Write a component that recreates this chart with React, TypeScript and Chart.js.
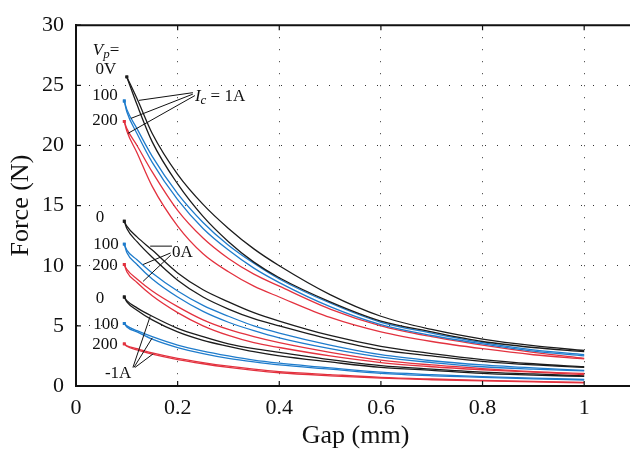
import React, { useEffect, useRef } from "react";
import { Chart, registerables } from "chart.js";

Chart.register(...registerables);

// Gap (mm) sample positions shared by all curves
const gapMm = [0.095, 0.1, 0.12, 0.15, 0.2, 0.25, 0.3, 0.35, 0.4, 0.5, 0.6, 0.7, 0.8, 0.9, 1.0];

// Ic = 1A
const ic1_vp0_a = [null, 25.7, 23.9, 21.0, 17.6, 15.1, 13.1, 11.4, 10.0, 7.6, 5.8, 4.7, 3.9, 3.35, 2.95];
const ic1_vp0_b = [null, 25.7, 23.4, 20.3, 16.8, 14.1, 12.0, 10.3, 9.0, 7.0, 5.4, 4.5, 3.7, 3.2, 2.85];
const ic1_vp100_a = [23.7, 23.0, 21.4, 19.1, 16.0, 13.6, 11.7, 10.2, 8.9, 6.9, 5.3, 4.4, 3.6, 3.0, 2.6];
const ic1_vp100_b = [23.7, 22.8, 21.0, 18.6, 15.5, 13.1, 11.3, 9.8, 8.6, 6.6, 5.1, 4.2, 3.5, 2.9, 2.5];
const ic1_vp200_a = [22.0, 21.4, 20.0, 17.8, 14.6, 12.3, 10.6, 9.3, 8.3, 6.4, 5.0, 4.1, 3.4, 2.8, 2.3];
const ic1_vp200_b = [22.0, 21.2, 19.4, 16.6, 13.3, 11.0, 9.5, 8.3, 7.4, 5.7, 4.5, 3.7, 3.1, 2.6, 2.25];

// Ic = 0A
const ic0_vp0_a = [13.7, 13.3, 12.4, 11.3, 9.4, 8.0, 7.0, 6.1, 5.4, 4.2, 3.3, 2.7, 2.2, 1.85, 1.6];
const ic0_vp0_b = [13.7, 13.1, 12.0, 10.7, 8.8, 7.4, 6.4, 5.6, 5.0, 3.9, 3.0, 2.5, 2.05, 1.75, 1.55];
const ic0_vp100_a = [11.8, 11.3, 10.5, 9.4, 7.9, 6.7, 5.8, 5.0, 4.4, 3.4, 2.6, 2.1, 1.75, 1.5, 1.3];
const ic0_vp100_b = [11.8, 11.1, 10.1, 8.9, 7.4, 6.2, 5.3, 4.6, 4.0, 3.1, 2.4, 1.95, 1.6, 1.4, 1.25];
const ic0_vp200_a = [10.1, 9.7, 8.9, 7.9, 6.6, 5.5, 4.7, 4.1, 3.6, 2.8, 2.15, 1.75, 1.45, 1.2, 1.05];
const ic0_vp200_b = [10.1, 9.5, 8.6, 7.5, 6.1, 5.0, 4.2, 3.6, 3.2, 2.5, 1.95, 1.6, 1.35, 1.15, 0.95];

// Ic = -1A
const icm1_vp0_a = [7.4, 7.1, 6.5, 5.8, 4.8, 4.1, 3.5, 3.1, 2.8, 2.2, 1.7, 1.4, 1.15, 1.0, 0.85];
const icm1_vp0_b = [7.4, 7.0, 6.3, 5.5, 4.5, 3.8, 3.3, 2.85, 2.5, 2.0, 1.55, 1.3, 1.05, 0.9, 0.8];
const icm1_vp100_a = [5.2, 5.0, 4.6, 4.1, 3.4, 2.9, 2.5, 2.15, 1.9, 1.5, 1.15, 0.95, 0.78, 0.65, 0.55];
const icm1_vp100_b = [5.2, 4.9, 4.5, 3.9, 3.2, 2.7, 2.3, 2.0, 1.75, 1.4, 1.05, 0.85, 0.72, 0.6, 0.5];
const icm1_vp200_a = [3.5, 3.35, 3.1, 2.75, 2.3, 1.95, 1.65, 1.4, 1.2, 0.95, 0.72, 0.58, 0.47, 0.38, 0.3];
const icm1_vp200_b = [3.5, 3.3, 3.0, 2.65, 2.2, 1.85, 1.55, 1.3, 1.1, 0.85, 0.65, 0.52, 0.42, 0.34, 0.27];

const xTickStep = 0.2;
const yTickStep = 5;

const COLOR_0V = "#1c1c1c";
const COLOR_100V = "#1f7ccc";
const COLOR_200V = "#e3323f";

const SERIF = '"Liberation Serif", "Times New Roman", Times, serif';

type Part = [string, string];

function drawRich(ctx: CanvasRenderingContext2D, parts: Part[], x: number, y: number, align: string) {
  const size = 17;
  const subSize = 13;
  const fontFor = (s: string) =>
    s === "i" ? `italic ${size}px ${SERIF}` : s === "si" ? `italic ${subSize}px ${SERIF}` : `${size}px ${SERIF}`;
  let total = 0;
  const widths = parts.map(([t, s]) => {
    ctx.font = fontFor(s);
    const w = ctx.measureText(t).width;
    total += w;
    return w;
  });
  let cx = align === "center" ? x - total / 2 : align === "right" ? x - total : x;
  ctx.textBaseline = "middle";
  ctx.textAlign = "left";
  parts.forEach(([t, s], i) => {
    ctx.font = fontFor(s);
    ctx.fillText(t, cx, s === "si" ? y + 4 : y);
    cx += widths[i];
  });
}

const framePlugin = {
  id: "frameAndNotes",
  afterDraw(chart: any) {
    const { ctx, chartArea: a, scales } = chart;
    const xs = scales.x;
    const ys = scales.y;
    const X = (v: number) => xs.getPixelForValue(v);
    const Y = (v: number) => ys.getPixelForValue(v);
    ctx.save();
    ctx.setLineDash([]);
    ctx.strokeStyle = "#111";
    ctx.lineWidth = 2;
    ctx.beginPath();
    ctx.moveTo(a.left - 1, a.top);
    ctx.lineTo(a.right, a.top);
    ctx.moveTo(a.right, a.top);
    ctx.lineTo(a.right, a.bottom);
    ctx.stroke();
    ctx.lineWidth = 1.2;
    ctx.beginPath();
    xs.ticks.forEach((t: any) => {
      const px = X(t.value);
      ctx.moveTo(px, a.bottom);
      ctx.lineTo(px, a.bottom - 5);
      ctx.moveTo(px, a.top);
      ctx.lineTo(px, a.top + 5);
    });
    ys.ticks.forEach((t: any) => {
      const py = Y(t.value);
      ctx.moveTo(a.left, py);
      ctx.lineTo(a.left + 5, py);
      ctx.moveTo(a.right, py);
      ctx.lineTo(a.right - 5, py);
    });
    ctx.stroke();

    // leader lines
    ctx.strokeStyle = "#111";
    ctx.lineWidth = 1;
    const seg = (x1: number, y1: number, x2: number, y2: number) => {
      ctx.beginPath();
      ctx.moveTo(X(x1), Y(y1));
      ctx.lineTo(X(x2), Y(y2));
      ctx.stroke();
    };
    seg(0.23, 24.39, 0.124, 23.75);
    seg(0.23, 24.27, 0.108, 22.25);
    seg(0.234, 24.15, 0.102, 21.0);
    seg(0.189, 11.63, 0.146, 11.63);
    seg(0.186, 11.06, 0.132, 10.1);
    seg(0.187, 10.9, 0.132, 8.7);
    seg(0.112, 1.54, 0.146, 5.8);
    seg(0.114, 1.54, 0.15, 4.0);
    seg(0.116, 1.54, 0.152, 2.68);

    ctx.fillStyle = "#111";
    drawRich(ctx, [["V", "i"], ["p", "si"], ["=", "n"]], X(0.033), Y(27.9), "left");
    drawRich(ctx, [["0V", "n"]], X(0.059), Y(26.3), "center");
    drawRich(ctx, [["100", "n"]], X(0.057), Y(24.15), "center");
    drawRich(ctx, [["200", "n"]], X(0.057), Y(22.11), "center");
    drawRich(ctx, [["I", "i"], ["c", "si"], [" = 1A", "n"]], X(0.234), Y(24.07), "left");

    drawRich(ctx, [["0", "n"]], X(0.047), Y(13.98), "center");
    drawRich(ctx, [["100", "n"]], X(0.059), Y(11.79), "center");
    drawRich(ctx, [["200", "n"]], X(0.057), Y(10.0), "center");
    drawRich(ctx, [["0A", "n"]], X(0.189), Y(11.06), "left");

    drawRich(ctx, [["0", "n"]], X(0.047), Y(7.24), "center");
    drawRich(ctx, [["100", "n"]], X(0.059), Y(5.12), "center");
    drawRich(ctx, [["200", "n"]], X(0.057), Y(3.41), "center");
    drawRich(ctx, [["-1A", "n"]], X(0.083), Y(1.06), "center");
    ctx.restore();
  },
};

function series(values: (number | null)[], color: string) {
  const first = values.findIndex((v) => v !== null);
  return {
    data: gapMm.map((g, i) => ({ x: g, y: values[i] })),
    borderColor: color,
    backgroundColor: color,
    borderWidth: 1.3,
    pointRadius: (c: any) => (c.dataIndex === first ? 2 : 0),
    pointStyle: "rect",
    pointBorderWidth: 0,
    fill: false,
    cubicInterpolationMode: "monotone" as const,
  };
}

export default function App() {
  const ref = useRef<HTMLCanvasElement | null>(null);
  useEffect(() => {
    document.body.style.margin = "0";
    document.body.style.overflow = "hidden";
    const canvas = ref.current!;
    const chart = new Chart(canvas, {
      type: "line",
      data: {
        datasets: [
          series(ic1_vp0_a, COLOR_0V),
          series(ic1_vp0_b, COLOR_0V),
          series(ic1_vp100_a, COLOR_100V),
          series(ic1_vp100_b, COLOR_100V),
          series(ic1_vp200_a, COLOR_200V),
          series(ic1_vp200_b, COLOR_200V),
          series(ic0_vp0_a, COLOR_0V),
          series(ic0_vp0_b, COLOR_0V),
          series(ic0_vp100_a, COLOR_100V),
          series(ic0_vp100_b, COLOR_100V),
          series(ic0_vp200_a, COLOR_200V),
          series(ic0_vp200_b, COLOR_200V),
          series(icm1_vp0_a, COLOR_0V),
          series(icm1_vp0_b, COLOR_0V),
          series(icm1_vp100_a, COLOR_100V),
          series(icm1_vp100_b, COLOR_100V),
          series(icm1_vp200_a, COLOR_200V),
          series(icm1_vp200_b, COLOR_200V),
        ] as any,
      },
      options: {
        animation: false,
        responsive: false,
        devicePixelRatio: 1,
        layout: { padding: { top: 17, right: 5, left: 0, bottom: 0 } },
        plugins: { legend: { display: false }, tooltip: { enabled: false } },
        scales: {
          x: {
            type: "linear",
            min: 0,
            max: 1.1,
            afterFit: (s: any) => {
              s.height = 66;
            },
            ticks: {
              stepSize: xTickStep,
              includeBounds: false,
              padding: 9,
              color: "#111",
              font: { family: SERIF, size: 22 },
              maxRotation: 0,
              callback: (v: number) => String(Math.round(v * 10) / 10),
            },
            grid: { color: "#333", lineWidth: 1, drawTicks: false },
            border: { display: true, color: "#111", width: 2, dash: [1, 11] },
            title: {
              display: true,
              text: "Gap (mm)",
              color: "#111",
              font: { family: SERIF, size: 26, lineHeight: 1.2 },
              padding: { top: 0, bottom: 0 },
            },
          },
          y: {
            type: "linear",
            min: 0,
            max: 30,
            afterFit: (s: any) => {
              s.width = 76;
            },
            ticks: {
              stepSize: yTickStep,
              padding: 12,
              color: "#111",
              font: { family: SERIF, size: 22 },
            },
            grid: { color: "#333", lineWidth: 1, drawTicks: false },
            border: { display: true, color: "#111", width: 2, dash: [1, 11] },
            title: {
              display: true,
              text: "Force (N)",
              color: "#111",
              font: { family: SERIF, size: 26, lineHeight: 1.2 },
              padding: { top: 6, bottom: 0 },
            },
          },
        },
      } as any,
      plugins: [framePlugin],
    });
    return () => chart.destroy();
  }, []);
  return (
    <div style={{ position: "fixed", left: 0, top: 0, width: 630, height: 452, overflow: "hidden", background: "#fff" }}>
      <canvas ref={ref} width={640} height={452} style={{ width: 640, height: 452, display: "block" }} />
    </div>
  );
}
